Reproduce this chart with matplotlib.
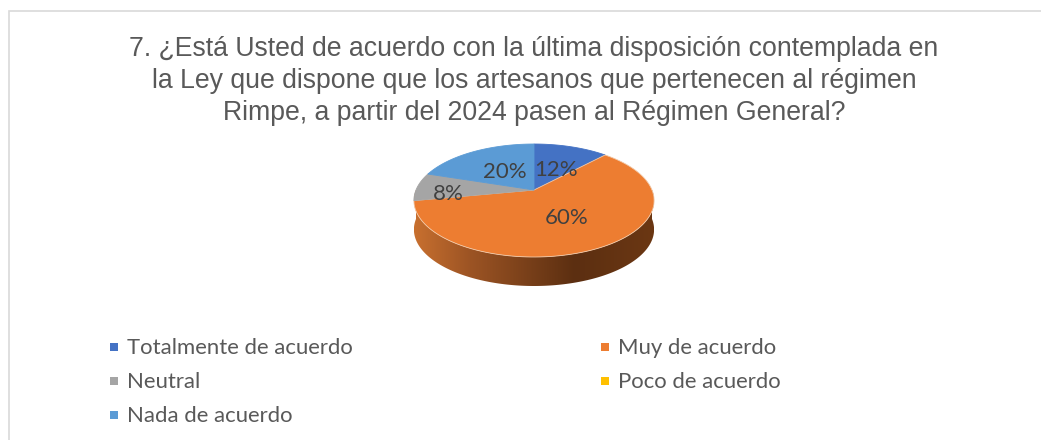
import numpy as np
import matplotlib
matplotlib.use("Agg")
import matplotlib.pyplot as plt
from matplotlib.patches import Polygon, Rectangle

title_lines = [
    "7. ¿Está Usted de acuerdo con la última disposición contemplada en",
    "la Ley que dispone que los artesanos que pertenecen al régimen",
    "Rimpe, a partir del 2024 pasen al Régimen General?",
]
categories = ["Totalmente de acuerdo", "Muy de acuerdo", "Neutral", "Poco de acuerdo", "Nada de acuerdo"]
values = [12, 60, 8, 0, 20]
colors = ["#4472C4", "#ED7D31", "#A5A5A5", "#FFC000", "#5B9BD5"]
label_pos = [(556, 169.5), (567, 218), (448, 194), None, (505, 172.5)]
legend_pos = [(112, 347), (603, 347), (112, 381), (603, 381), (112, 415)]

# pie geometry, tilted disc with some perspective
cx, cy = 534, 190
r = 118
c = 0.186
a = -19.2
depth = 29


def project(theta):
    u, v = np.sin(theta), np.cos(theta)
    w = 1 + c * v
    return cx + r * u / w, (a * v + cy) / w


fig = plt.figure(figsize=(10.41, 4.40), dpi=100)
ax = fig.add_axes([0, 0, 1, 1])
ax.set_xlim(0, 1041)
ax.set_ylim(440, 0)
ax.axis("off")

# chart frame runs off the right and bottom of the crop
ax.add_patch(Rectangle((8.5, 11.5), 1100, 500, fc="white", ec="#D9D9D9", lw=1.2))

for i, line in enumerate(title_lines):
    ax.text(534, 49.5 + i * 31.5, line, family="Liberation Sans", fontsize=19.2,
            color="#595959", ha="center", va="center")

# side wall of the orange slice
t = np.linspace(np.pi * 0.5, np.pi * 1.5, 200)
x, y = project(t)
wall = np.vstack([np.c_[x, y], np.c_[x[::-1], y[::-1] + depth]])
stops = [(414, "#C8702F"), (470, "#9C5424"), (575, "#5C2F11"), (654, "#6B3713")]
grad_x = np.arange(414, 655)
rgb = np.array([matplotlib.colors.to_rgb(s[1]) for s in stops])
grad = np.stack([np.interp(grad_x, [s[0] for s in stops], rgb[:, k]) for k in range(3)], axis=-1)
im = ax.imshow(grad[np.newaxis, :, :], extent=(414, 654, 300, 190), aspect="auto", zorder=2)
wall_patch = Polygon(wall, closed=True, fc="none", ec="none", transform=ax.transData)
ax.add_patch(wall_patch)
im.set_clip_path(wall_patch)
ax.set_xlim(0, 1041)
ax.set_ylim(440, 0)

# top face
start = 0.0
total = sum(values)
for val, col in zip(values, colors):
    if val == 0:
        continue
    end = start + val / total * 2 * np.pi
    t = np.linspace(start, end, 120)
    x, y = project(t)
    pts = np.vstack([[cx, cy], np.c_[x, y]])
    ax.add_patch(Polygon(pts, closed=True, fc=col, ec="#F2C9A8" if col == "#ED7D31" else col,
                         lw=0.6, zorder=3))
    start = end

for val, pos in zip(values, label_pos):
    if pos is None:
        continue
    ax.text(pos[0], pos[1], f"{val}%", family="Lato", fontsize=16, color="#404040",
            ha="center", va="center", zorder=4)

for name, col, pos in zip(categories, colors, legend_pos):
    ax.add_patch(Rectangle((pos[0] - 2, pos[1] - 4), 8, 8, fc=col, ec="none"))
    ax.text(pos[0] + 15, pos[1] + 1, name, family="Lato", fontsize=15.9, color="#595959",
            ha="left", va="center")

fig.savefig("out.png", dpi=100)
